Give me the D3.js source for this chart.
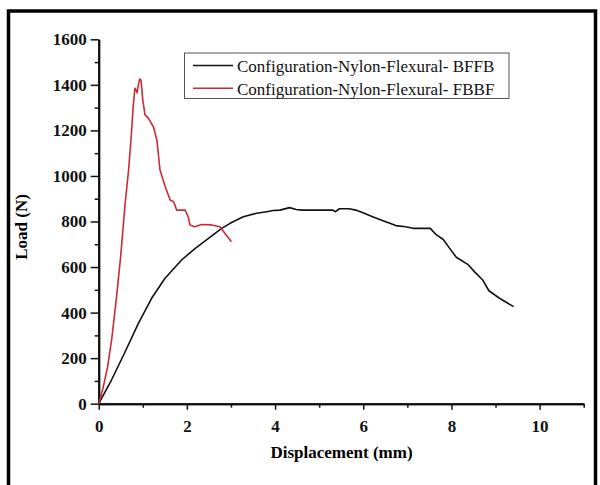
<!DOCTYPE html>
<html>
<head>
<meta charset="utf-8">
<script src="https://cdn.jsdelivr.net/npm/d3@7"></script>
<style>
  body { margin: 0; background: #fff; }
  svg { display: block; }
</style>
</head>
<body>
<svg id="chart" width="600" height="485"></svg>
<script>
'use strict';

// displacement (mm) / load (N)
const bffbX = [0, 0.29, 0.60, 0.90, 1.20, 1.50, 1.88, 2.19, 2.49, 2.79, 2.98, 3.28, 3.58, 3.81, 3.96, 4.11, 4.33, 4.48, 4.63, 5.31, 5.37, 5.46, 5.68, 5.83, 5.98, 6.21, 6.51, 6.74, 6.96, 7.13, 7.52, 7.66, 7.81, 7.96, 8.11, 8.37, 8.52, 8.71, 8.85, 9.09, 9.41];
const bffbY = [0, 104, 228, 353, 463, 550, 631, 682, 726, 770, 792, 821, 836, 843, 848, 850, 861, 853, 850, 850, 843, 856, 856, 850, 839, 821, 799, 782, 777, 770, 770, 741, 722, 682, 643, 612, 580, 543, 496, 463, 426];

const fbbfX = [0, 0.10, 0.20, 0.30, 0.40, 0.50, 0.60, 0.68, 0.74, 0.78, 0.82, 0.85, 0.87, 0.89, 0.93, 0.96, 1.00, 1.05, 1.13, 1.24, 1.32, 1.39, 1.51, 1.62, 1.70, 1.77, 1.96, 2.03, 2.07, 2.18, 2.33, 2.56, 2.75, 2.86, 3.01];
const fbbfY = [0, 70, 160, 290, 460, 650, 880, 1030, 1180, 1300, 1385, 1375, 1365, 1390, 1426, 1421, 1333, 1268, 1253, 1216, 1158, 1026, 953, 894, 887, 850, 850, 821, 785, 777, 787, 785, 777, 748, 711];

const seriesNames = ["Configuration-Nylon-Flexural- BFFB", "Configuration-Nylon-Flexural- FBBF"];
const seriesColors = ["#111111", "#cc2b36"];

const xMajor = [0, 2, 4, 6, 8, 10];
const xMinor = [1, 3, 5, 7, 9, 11];
const yMajor = [0, 200, 400, 600, 800, 1000, 1200, 1400, 1600];
const yMinor = [100, 300, 500, 700, 900, 1100, 1300, 1500];

const svg = d3.select("#chart");
const serif = "'Liberation Serif', 'Times New Roman', serif";

// outer frame
svg.append("rect")
    .attr("x", 8.5).attr("y", 11)
    .attr("width", 587).attr("height", 500)
    .attr("fill", "none")
    .attr("stroke", "#000")
    .attr("stroke-width", 3.5);

const x = d3.scaleLinear().domain([0, 11]).range([98.7, 583.7]);
const y = d3.scaleLinear().domain([0, 1600]).range([403.7, 39.3]);

function styleAxis(g) {
    g.select(".domain").attr("stroke", "#111").attr("stroke-width", 2);
    g.selectAll(".tick line").attr("stroke", "#111").attr("stroke-width", 1.5);
    g.selectAll("text")
        .attr("font-family", serif)
        .attr("font-weight", "bold")
        .attr("font-size", 17)
        .attr("fill", "#111");
}

// minor ticks first
svg.append("g")
    .attr("transform", "translate(0,403.7)")
    .call(d3.axisBottom(x).tickValues(xMinor).tickSize(4).tickFormat("").tickSizeOuter(0))
    .call(styleAxis);
svg.append("g")
    .attr("transform", "translate(98.7,0)")
    .call(d3.axisLeft(y).tickValues(yMinor).tickSize(4).tickFormat("").tickSizeOuter(0))
    .call(styleAxis);

svg.append("g")
    .attr("transform", "translate(0,403.7)")
    .call(d3.axisBottom(x).tickValues(xMajor).tickSize(6).tickPadding(10).tickSizeOuter(0).tickFormat(d3.format("d")))
    .call(styleAxis);

svg.append("g")
    .attr("transform", "translate(98.7,0)")
    .call(d3.axisLeft(y).tickValues(yMajor).tickSize(8).tickPadding(4).tickSizeOuter(0).tickFormat(d3.format("d")))
    .call(styleAxis);

// curves
const line = d3.line()
    .x(d => x(d[0]))
    .y(d => y(d[1]));

const bffb = d3.zip(bffbX, bffbY);
const fbbf = d3.zip(fbbfX, fbbfY);

svg.append("path")
    .datum(bffb)
    .attr("d", line)
    .attr("fill", "none")
    .attr("stroke", seriesColors[0])
    .attr("stroke-width", 1.6)
    .attr("stroke-linejoin", "round");

svg.append("path")
    .datum(fbbf)
    .attr("d", line)
    .attr("fill", "none")
    .attr("stroke", seriesColors[1])
    .attr("stroke-width", 1.6)
    .attr("stroke-linejoin", "round");

// axis titles
svg.append("text")
    .attr("x", 341.5).attr("y", 458)
    .attr("text-anchor", "middle")
    .attr("font-family", serif)
    .attr("font-weight", "bold")
    .attr("font-size", 17)
    .attr("fill", "#000")
    .text("Displacement (mm)");

svg.append("text")
    .attr("transform", "translate(27,227) rotate(-90)")
    .attr("text-anchor", "middle")
    .attr("font-family", serif)
    .attr("font-weight", "bold")
    .attr("font-size", 17)
    .attr("fill", "#000")
    .text("Load (N)");

// legend
const legend = svg.append("g");
legend.append("rect")
    .attr("x", 184.5).attr("y", 53)
    .attr("width", 324.5).attr("height", 45.5)
    .attr("fill", "#fff")
    .attr("stroke", "#555")
    .attr("stroke-width", 1);

seriesNames.forEach(function (name, i) {
    const ly = 65.5 + i * 22.7;
    legend.append("line")
        .attr("x1", 193).attr("x2", 233)
        .attr("y1", ly).attr("y2", ly)
        .attr("stroke", seriesColors[i])
        .attr("stroke-width", 1.6);
    legend.append("text")
        .attr("x", 237).attr("y", ly + 6.5)
        .attr("font-family", serif)
        .attr("font-size", 17)
        .attr("fill", "#111")
        .text(name);
});
</script>
</body>
</html>
